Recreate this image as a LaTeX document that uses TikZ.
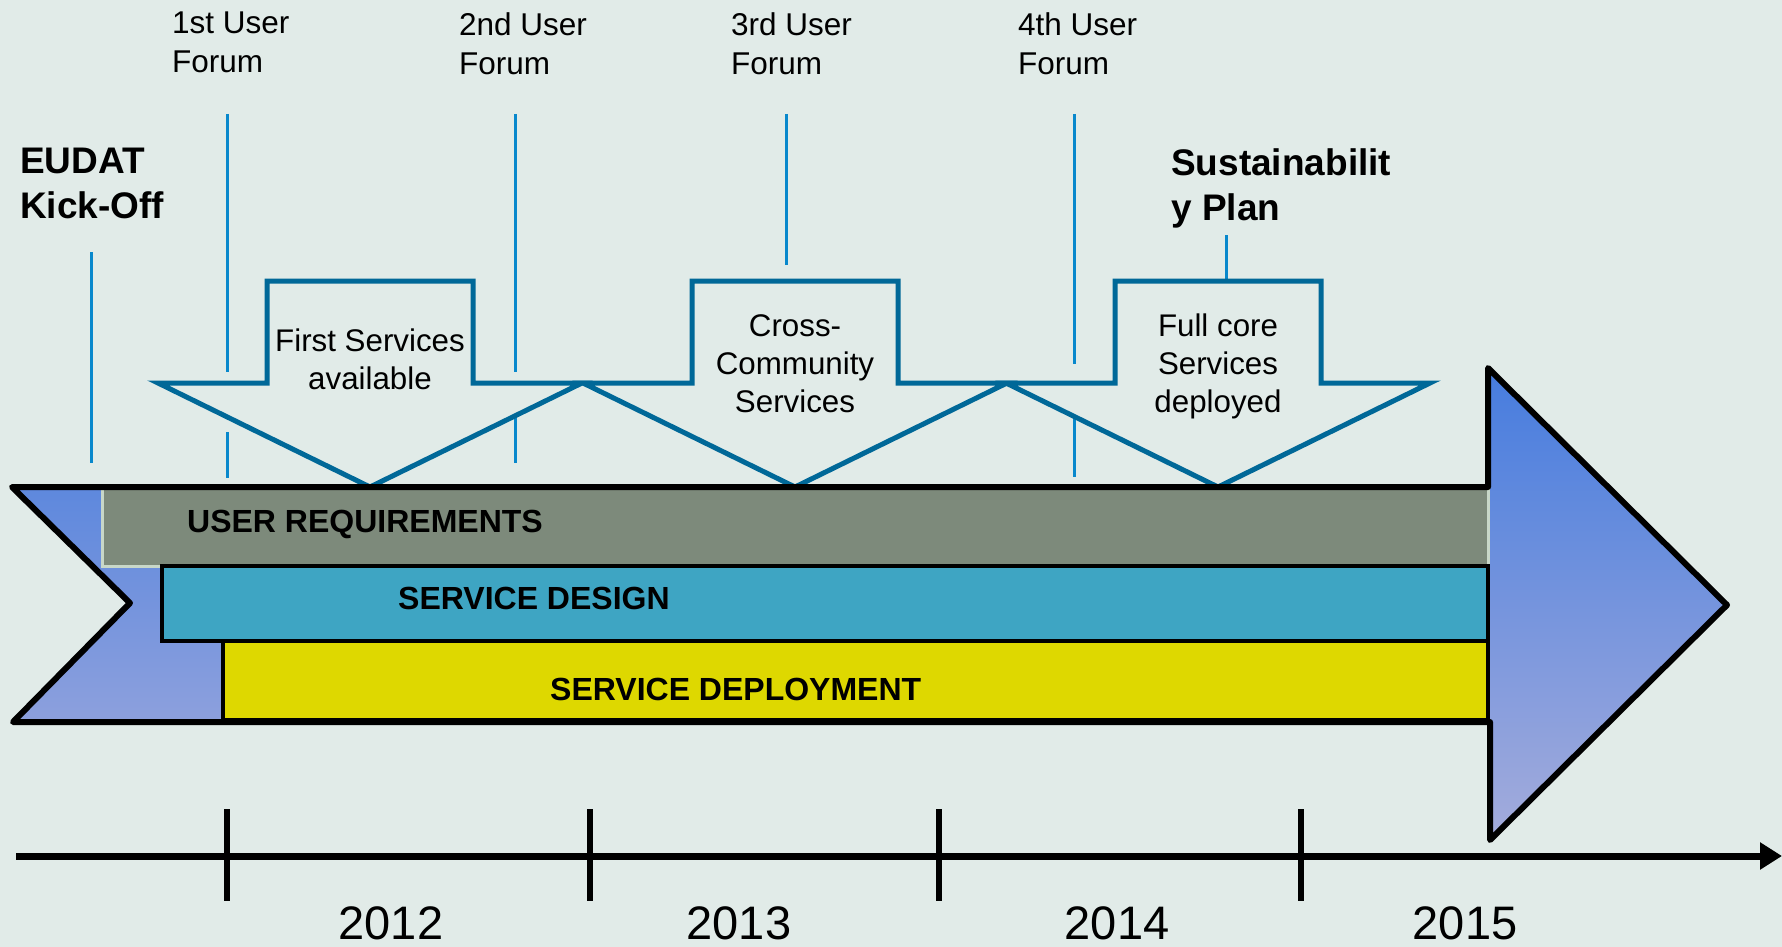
\documentclass[tikz,border=0pt]{standalone}
\usepackage{fontspec}
\setmainfont{Liberation Sans}
\usetikzlibrary{arrows.meta}
\definecolor{bg}{RGB}{225,235,232}
\definecolor{vline}{RGB}{8,136,204}
\definecolor{darrow}{RGB}{0,104,152}
\definecolor{urgray}{RGB}{125,138,123}
\definecolor{urlight}{RGB}{200,215,200}
\definecolor{sdteal}{RGB}{62,165,195}
\definecolor{sdyellow}{RGB}{222,216,0}
\definecolor{arrtop}{RGB}{70,124,222}
\definecolor{arrbot}{RGB}{164,172,220}
\begin{document}
\begin{tikzpicture}[x=1pt,y=-1pt,
  forum/.style={anchor=north west,align=left,inner sep=0pt,font=\fontsize{31.5}{39}\selectfont},
  milestone/.style={anchor=north west,align=left,inner sep=0pt,font=\fontsize{37}{45}\selectfont\bfseries},
  bartext/.style={anchor=base west,inner sep=0pt,font=\fontsize{32}{38}\selectfont\bfseries},
  arrtext/.style={anchor=north,align=center,inner sep=0pt,font=\fontsize{31.3}{38}\selectfont},
  year/.style={anchor=base,inner sep=0pt,font=\fontsize{47}{56}\selectfont},
  vmark/.style={draw=vline,line width=3pt},
  downarrow/.style={draw=darrow,line width=5pt,fill=bg,line join=miter},
  bar/.style={draw=black,line width=4pt},
  tick/.style={draw=black,line width=6.5pt},
]
\fill[bg] (0,0) rectangle (1782,947);
\useasboundingbox (0,0) rectangle (1782,947);

% milestone marker lines
\draw[vmark] (91,252) -- (91,463);
\draw[vmark] (227,114) -- (227,372);
\draw[vmark] (227,432) -- (227,478);
\draw[vmark] (515,114) -- (515,372);
\draw[vmark] (515,418) -- (515,463);
\draw[vmark] (786,114) -- (786,265);
\draw[vmark] (1074,114) -- (1074,364);
\draw[vmark] (1074,415) -- (1074,477);
\draw[vmark] (1226,235) -- (1226,280);

% down arrows
\draw[downarrow] (267,281) -- (473,281) -- (473,383) -- (582,383) -- (370,487) -- (158,383) -- (267,383) -- cycle;
\draw[downarrow] (692,281) -- (898,281) -- (898,383) -- (1007,383) -- (795,487) -- (583,383) -- (692,383) -- cycle;
\draw[downarrow] (1115,281) -- (1321,281) -- (1321,383) -- (1430,383) -- (1218,487) -- (1006,383) -- (1115,383) -- cycle;

% big arrow
\path[top color=arrtop, bottom color=arrbot] (12,487) -- (1488,487) -- (1488,368) -- (1727,605) -- (1490,840) -- (1490,722) -- (13,722) -- (130,603) -- cycle;

% bars
\draw[draw=urlight,line width=3pt,fill=urgray] (102,487) rectangle (1488,566);
\draw[bar,fill=sdteal] (162,566) rectangle (1488,641);
\draw[bar,fill=sdyellow] (223,641) rectangle (1488,720);

\draw[black,line width=6pt,line join=round] (12,487) -- (1488,487) -- (1488,368) -- (1727,605) -- (1490,840) -- (1490,722) -- (13,722) -- (130,603) -- cycle;

\node[bartext] (ur) at (187,532) {USER REQUIREMENTS};
\node[bartext] (sd) at (398,609) {SERVICE DESIGN};
\node[bartext] (dep) at (550,700) {SERVICE DEPLOYMENT};

% arrow texts
\node[arrtext] (fs) at (370,329) {First Services\\available};
\node[arrtext] (cc) at (795,314) {Cross-\\Community\\Services};
\node[arrtext] (fc) at (1218,314) {Full core\\Services\\deployed};

% labels
\node[forum] (f1) at (172,12) {1st User\\Forum};
\node[forum] (f2) at (459,12) {2nd User\\Forum};
\node[forum] (f3) at (731,12) {3rd User\\Forum};
\node[forum] (f4) at (1018,12) {4th User\\Forum};
\node[milestone] (kick) at (20,148) {EUDAT\\Kick-Off};
\node[milestone] (sus) at (1171,148) {Sustainabilit\\y Plan};

% timeline
\coordinate (tl0) at (16,856);
\coordinate (tl1) at (1782,856);
\draw[line width=7pt,-{Triangle[length=22pt,width=26pt]}] (tl0) -- (tl1);
\draw[tick] (227,809) -- (227,901);
\draw[tick] (590,809) -- (590,901);
\draw[tick] (939,809) -- (939,901);
\draw[tick] (1301,809) -- (1301,901);
\node[year] (y12) at (391,939) {2012};
\node[year] (y13) at (739,939) {2013};
\node[year] (y14) at (1117,939) {2014};
\node[year] (y15) at (1465,939) {2015};
\end{tikzpicture}
\end{document}
